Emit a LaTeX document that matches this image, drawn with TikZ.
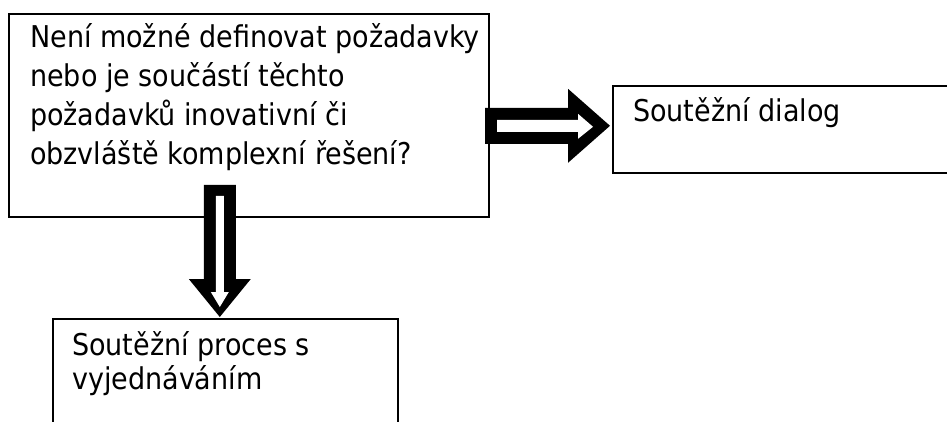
\documentclass[tikz,border=0pt]{standalone}
\usepackage{fontspec}
\setmainfont{DejaVu Sans Condensed}
\usetikzlibrary{calc}
\tikzset{
  box/.style={draw=black, line width=1.6pt, fill=white, inner sep=0pt, anchor=north west},
  label/.style={inner sep=0pt, anchor=base west, font=\fontsize{30}{39}\selectfont},
  blockarrow/.style={fill=black, draw=none},
  blockhole/.style={fill=white, draw=none},
}
\begin{document}
\begin{tikzpicture}[x=1pt, y=-1pt]
  \useasboundingbox (0,0) rectangle (947,422);
  \clip (0,0) rectangle (947,422);
  \fill[white] (0,0) rectangle (947,422);

  % the three boxes
  \node[box, minimum width=480pt, minimum height=203pt] (q) at (8,13) {};
  \node[box, minimum width=400pt, minimum height=87pt] (dialog) at (612,85) {};
  \node[box, minimum width=345pt, minimum height=150pt] (proces) at (52,318) {};

  % box texts
  \node[label] (qtext) at (30,48) {\parbox[t]{458pt}{\raggedright
    Není možné definovat požadavky\\
    nebo je součástí těchto\\
    požadavků inovativní či\\
    obzvláště komplexní řešení?}};
  \node[label] (dtext) at (633,122) {Soutěžní dialog};
  \node[label, font=\fontsize{30}{34}\selectfont] (ptext) at (72,355) {\parbox[t]{320pt}{\raggedright
    Soutěžní proces s\\
    vyjednáváním}};

  % hollow block arrow: question -> dialog
  \begin{scope}[shift={($(dialog.west)+(-2,-3.5)$)}]
    \path[blockarrow] (-125,-18) -- (-42,-18) -- (-42,-37) -- (0,0)
      -- (-42,37) -- (-42,18) -- (-125,18) -- cycle;
    \path[blockhole] (-113,-6) -- (-32,-6) -- (-32,-12) -- (-17,1)
      -- (-32,13) -- (-32,6) -- (-113,6) -- cycle;
  \end{scope}

  % hollow block arrow: question -> proces
  \begin{scope}[shift={($(proces.north)+(-5.5,-1)$)}]
    \path[blockarrow] (-16,-132) -- (16,-132) -- (16,-38) -- (31,-38)
      -- (0,0) -- (-31,-38) -- (-16,-38) -- cycle;
    \path[blockhole] (-4,-121) -- (4,-121) -- (4,-25) -- (9,-25)
      -- (0,-10) -- (-9,-25) -- (-4,-25) -- cycle;
  \end{scope}
\end{tikzpicture}
\end{document}
